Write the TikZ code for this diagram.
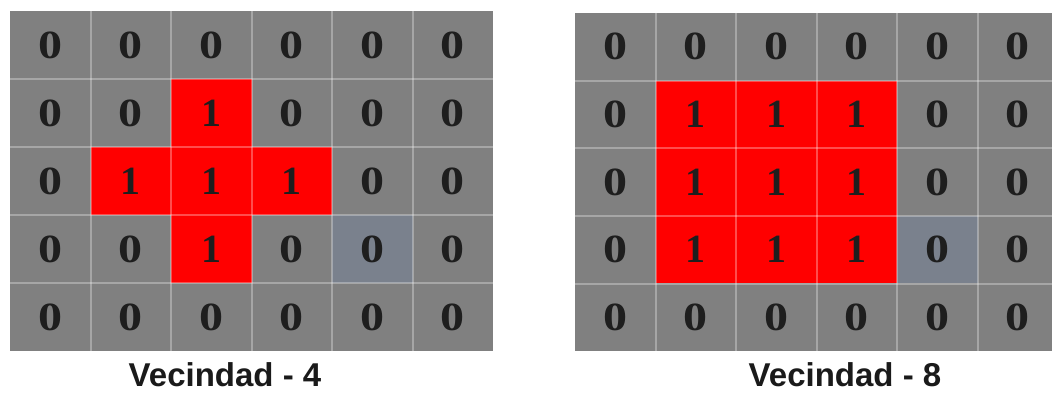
\documentclass[tikz,border=0pt]{standalone}
\usepackage{fontspec}
\setmainfont{Liberation Serif}
\newfontfamily\labfont{Liberation Sans}
\definecolor{cellgray}{HTML}{808080}
\definecolor{cellred}{HTML}{FF0000}
\definecolor{cellblue}{HTML}{7A818D}
\definecolor{digit}{HTML}{1E1E1E}
\definecolor{labcol}{HTML}{1A1A1A}
\begin{document}
\begin{tikzpicture}[x=1pt,y=-1pt,
  cell/.style={rectangle, inner sep=0pt, minimum width=80.5pt, minimum height=68pt,
    fill=cellgray, text=digit, font=\fontsize{40}{40}\selectfont\bfseries},
  cellR/.style={cell, minimum height=67.6pt},
  onstyle/.style={fill=cellred},
  hlstyle/.style={fill=cellblue},
  nostyle/.style={},
  gridline/.style={draw=white, draw opacity=0.3, line width=2pt},
  caption/.style={font=\labfont\bfseries\fontsize{33}{33}\selectfont, text=labcol, anchor=base, inner sep=0pt}]
\useasboundingbox (0,0) rectangle (1052,394);
\fill[white] (0,0) rectangle (1052,394);
% left grid: Vecindad - 4
\foreach \r in {0,...,4}{
  \foreach \c in {0,...,5}{
    \pgfmathtruncatemacro\isone{or(and(\r==2, and(\c>=1,\c<=3)), and(\c==2, and(\r>=1,\r<=3)))}
    \pgfmathtruncatemacro\ishl{and(\r==3,\c==4)}
    \ifnum\isone=1 \def\val{1}\def\sty{onstyle}\else\def\val{\scalebox{1.2}[1]{0}}\ifnum\ishl=1 \def\sty{hlstyle}\else\def\sty{nostyle}\fi\fi
    \node[cell,\sty] (L-\r-\c) at ({10+40.25+80.5*\c},{45+68*\r}) {\val};
  }
}
\foreach \c in {0,...,4}{
  \draw[gridline] (L-0-\c.north east) -- (L-4-\c.south east);
}
\foreach \r in {0,...,3}{
  \draw[gridline] (L-\r-0.south west) -- (L-\r-5.south east);
}
% right grid: Vecindad - 8
\foreach \r in {0,...,4}{
  \foreach \c in {0,...,5}{
    \pgfmathtruncatemacro\isone{and(and(\r>=1,\r<=3), and(\c>=1,\c<=3))}
    \pgfmathtruncatemacro\ishl{and(\r==3,\c==4)}
    \ifnum\isone=1 \def\val{1}\def\sty{onstyle}\else\def\val{\scalebox{1.2}[1]{0}}\ifnum\ishl=1 \def\sty{hlstyle}\else\def\sty{nostyle}\fi\fi
    \node[cellR,\sty] (R-\r-\c) at ({575+40.25+80.5*\c},{46.8+67.6*\r}) {\val};
  }
}
\foreach \c in {0,...,4}{
  \draw[gridline] (R-0-\c.north east) -- (R-4-\c.south east);
}
\foreach \r in {0,...,3}{
  \draw[gridline] (R-\r-0.south west) -- (R-\r-5.south east);
}
\node[caption] (cap4) at (225,386) {Vecindad - 4};
\node[caption] (cap8) at (845,386) {Vecindad - 8};
\end{tikzpicture}
\end{document}
